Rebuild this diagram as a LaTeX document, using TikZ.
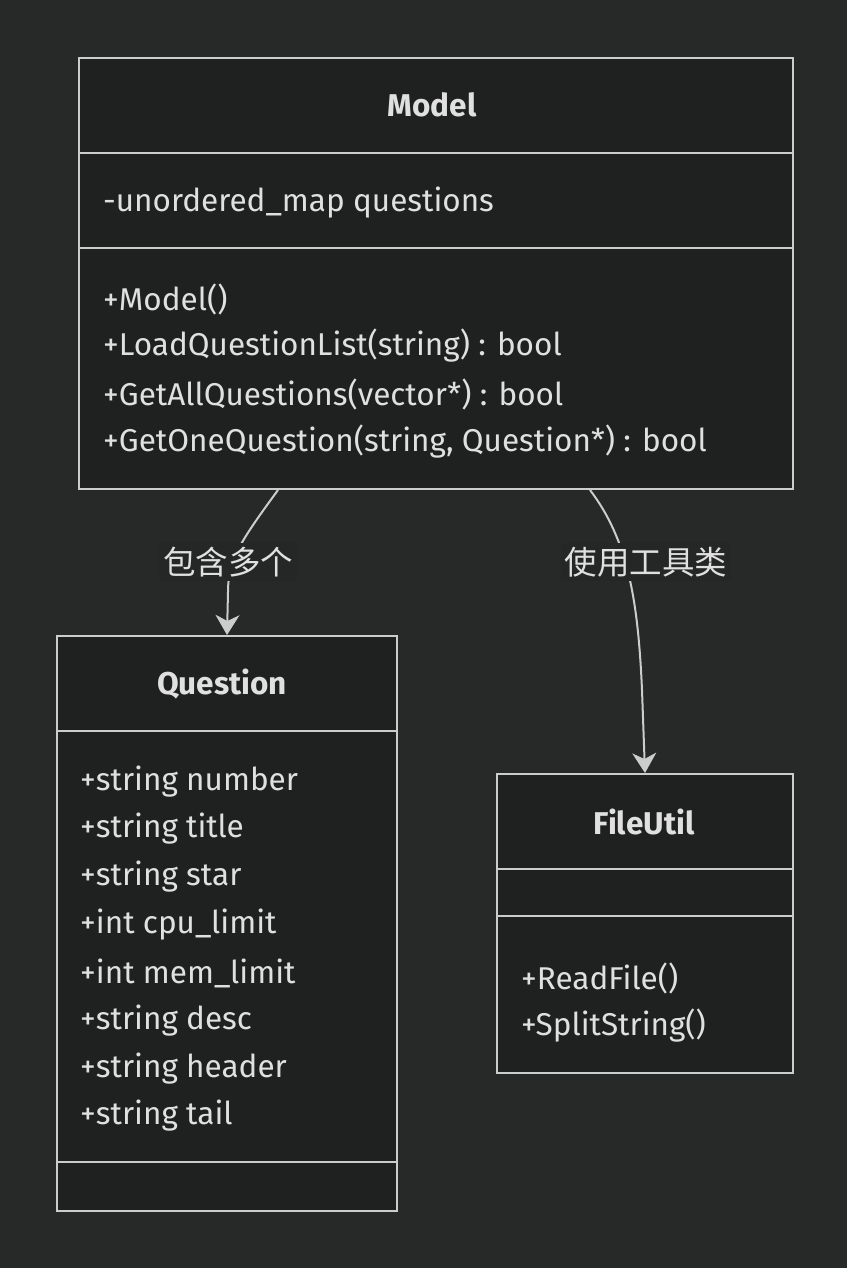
\documentclass[tikz,border=0pt]{standalone}
\usepackage{fontspec}
\setmainfont{Fira Sans}
\newfontfamily\cjk{Noto Sans CJK SC}
\usetikzlibrary{arrows.meta}
\definecolor{bgc}{HTML}{272828}
\definecolor{boxfill}{HTML}{1F2020}
\definecolor{labelfill}{HTML}{252626}
\definecolor{strokec}{HTML}{CCCCCC}
\definecolor{txt}{HTML}{E0E0E0}
\tikzset{
  cls/.style={draw=strokec, line width=2pt, fill=boxfill, rectangle, inner sep=0pt, anchor=north west},
  divider/.style={draw=strokec, line width=2pt},
  member/.style={anchor=west, inner sep=0pt, yshift=-3pt, text=txt, font=\fontsize{31.5}{36}\selectfont},
  title/.style={inner sep=0pt, yshift=-1pt, text=txt, font=\fontsize{31.5}{36}\selectfont\bfseries},
  edge/.style={draw=strokec, line width=2pt, -{Stealth[length=20pt, width=24pt, inset=6pt, line width=1pt]}},
  elabel/.style={fill=labelfill, text=txt, inner sep=4pt, font=\cjk\fontsize{32.5}{36}\selectfont},
}
\begin{document}
\begin{tikzpicture}[x=1pt, y=-1pt]
\fill[bgc] (0,0) rectangle (847,1268);
\useasboundingbox (0,0) rectangle (847,1268);
% Model
\node[cls, minimum width=714pt, minimum height=431pt] (model) at (78,57) {};
\draw[divider] (78,153) -- (792,153);
\draw[divider] (78,248) -- (792,248);
\node[title] (modelT) at (432,104) {Model};
\node[member] (m1) at (103,200) {-unordered\_map questions};
\node[member] (m2) at (103,296) {+Model()};
\node[member] (m3) at (103,343) {+LoadQuestionList(string) : bool};
\node[member] (m4) at (103,391) {+GetAllQuestions(vector*) : bool};
\node[member] (m5) at (103,439) {+GetOneQuestion(string, Question*) : bool};
% Question
\node[cls, minimum width=340pt, minimum height=575pt] (question) at (56,635) {};
\draw[divider] (56,731) -- (396,731);
\draw[divider] (56,1162) -- (396,1162);
\node[title] (questionT) at (222,683) {Question};
\node[member] (q1) at (80,779) {+string number};
\node[member] (q2) at (80,826) {+string title};
\node[member] (q3) at (80,874) {+string star};
\node[member] (q4) at (80,922) {+int cpu\_limit};
\node[member] (q5) at (80,970) {+int mem\_limit};
\node[member] (q6) at (80,1018) {+string desc};
\node[member] (q7) at (80,1066) {+string header};
\node[member] (q8) at (80,1113) {+string tail};
% FileUtil
\node[cls, minimum width=296pt, minimum height=299pt] (fileutil) at (496,773) {};
\draw[divider] (496,869) -- (792,869);
\draw[divider] (496,916) -- (792,916);
\node[title] (fileutilT) at (644,821) {FileUtil};
\node[member] (f1) at (521,975) {+ReadFile()};
\node[member] (f2) at (521,1023) {+SplitString()};
% edges
\draw[edge] ([xshift=200pt]model.south west) .. controls (240,542) and (228,560) .. (228,592) -- ([xshift=171pt]question.north west);
\node[elabel] (l1) at (228,562) {包含多个};
\draw[edge] ([xshift=512pt]model.south west) .. controls (628,540) and (638,600) .. (642,690) -- (fileutil.north);
\node[elabel] (l2) at (646,562) {使用工具类};
\end{tikzpicture}
\end{document}
